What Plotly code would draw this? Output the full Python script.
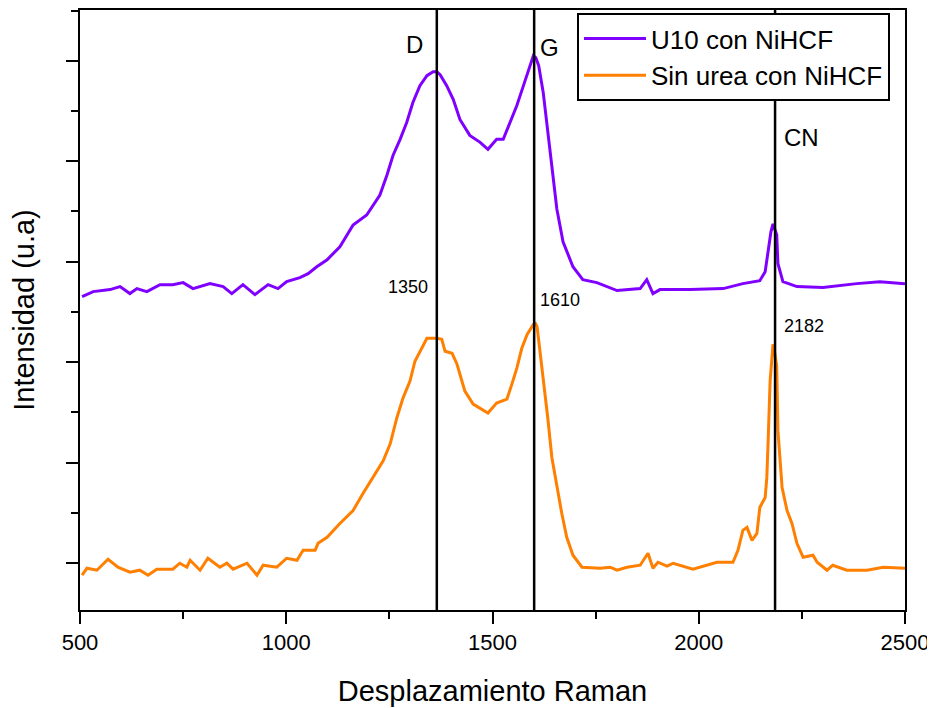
import plotly.graph_objects as go

# Raman shift (cm-1) and intensity (arbitrary units)
u10_x = [505, 532, 573, 597, 621, 638, 662, 694, 725, 750, 774, 815, 847, 868, 895, 924, 956, 980,
         1001, 1033, 1053, 1074, 1099, 1130, 1162, 1195, 1227, 1244, 1259, 1276, 1292, 1307, 1324,
         1341, 1356, 1365, 1373, 1389, 1405, 1421, 1445, 1470, 1489, 1510, 1526, 1542, 1559, 1575,
         1591, 1599, 1605, 1612, 1623, 1632, 1644, 1656, 1671, 1695, 1719, 1753, 1802, 1858, 1874,
         1889, 1906, 1979, 2059, 2107, 2148, 2161, 2168, 2175, 2180, 2185, 2189, 2192, 2204, 2238,
         2301, 2383, 2439, 2500]
u10_y = [268, 273, 275, 278, 271, 276, 273, 280, 280, 282, 276, 281, 278, 271, 280, 270, 280, 276,
         283, 287, 291, 298, 305, 318, 340, 350, 370, 390, 410, 426, 443, 463, 480,
         490, 494, 494, 491, 480, 466, 446, 430, 423, 416, 426, 426, 443, 460, 480,
         500, 510, 508, 500, 473, 440, 396, 356, 323, 298, 285, 282, 274, 276, 285,
         271, 275, 275, 276, 281, 284, 293, 313, 333, 341, 335, 330, 301, 283, 278,
         277, 281, 283, 281]

sin_x = [505, 517, 541, 568, 592, 621, 645, 665, 686, 725, 742, 759, 767, 791, 810, 839, 856, 871,
         905, 929, 944, 977, 1001, 1026, 1041, 1070, 1077, 1099, 1130, 1162, 1186, 1210, 1235, 1252,
         1268, 1283, 1300, 1312, 1329, 1341, 1365, 1377, 1385, 1402, 1414, 1421, 1433, 1453, 1470,
         1489, 1510, 1535, 1547, 1559, 1571, 1584, 1599, 1604, 1608, 1615, 1627, 1634, 1644, 1656,
         1668, 1680, 1695, 1717, 1761, 1785, 1802, 1826, 1858, 1877, 1889, 1901, 1923, 1938, 1986,
         2044, 2083, 2095, 2107, 2117, 2129, 2141, 2148, 2161, 2165, 2168, 2173, 2180, 2184, 2189,
         2192, 2202, 2214, 2226, 2238, 2253, 2277, 2287, 2311, 2325, 2359, 2408, 2447, 2500]
sin_y = [-12, -5, -7, 4, -4, -9, -7, -12, -6, -6, 0, -4, 3, -7, 5, -4, 0, -6,
         0, -12, -2, -4, 5, 3, 13, 13, 20, 26, 40, 53, 70, 86, 103, 120,
         146, 166, 183, 203, 216, 226, 226, 225, 213, 211, 200, 190, 173, 160, 156,
         151, 161, 165, 180, 196, 216, 230, 240, 241, 238, 213, 176, 146, 106, 76,
         50, 26, 8, -4, -5, -4, -7, -4, -2, 10, -5, 1, -3, 0, -6,
         1, 1, 13, 33, 36, 23, 30, 56, 66, 86, 120, 183, 220, 212, 198,
         133, 76, 53, 40, 20, 6, 8, 1, -7, -2, -7, -7, -4, -5]

series_names = ["U10 con NiHCF", "Sin urea con NiHCF"]
peak_lines = [1365, 1601, 2185]
band_labels = ["D", "G", "CN"]
peak_labels = ["1350", "1610", "2182"]

FONT = "Liberation Sans, Arial, sans-serif"

fig = go.Figure()
fig.add_trace(go.Scatter(x=u10_x, y=u10_y, mode="lines", name=series_names[0],
                         line=dict(color="#8000FF", width=3)))
fig.add_trace(go.Scatter(x=sin_x, y=sin_y, mode="lines", name=series_names[1],
                         line=dict(color="#FF7F00", width=3)))

for xv in peak_lines:
    fig.add_shape(type="line", x0=xv, x1=xv, xref="x", y0=0, y1=1, yref="paper",
                  line=dict(color="black", width=2.5))

band_pos = [(1312, 0.942), (1639, 0.937), (2250, 0.788)]
for txt, (xx, yy) in zip(band_labels, band_pos):
    fig.add_annotation(x=xx, y=yy, xref="x", yref="paper", text=txt, showarrow=False,
                       xanchor="center", yanchor="middle",
                       font=dict(family=FONT, size=24, color="black"))
peak_pos = [(1295, 0.539), (1664, 0.516), (2255, 0.474)]
for txt, (xx, yy) in zip(peak_labels, peak_pos):
    fig.add_annotation(x=xx, y=yy, xref="x", yref="paper", text=txt, showarrow=False,
                       xanchor="center", yanchor="middle",
                       font=dict(family=FONT, size=18, color="black"))

fig.update_layout(
    width=927, height=700,
    margin=dict(l=72, r=30, t=0, b=98),
    paper_bgcolor="white", plot_bgcolor="white",
    font=dict(family=FONT, color="black"),
    showlegend=True,
    legend=dict(x=0.6024, y=0.995, xanchor="left", yanchor="top",
                bgcolor="white", bordercolor="black", borderwidth=2,
                font=dict(family=FONT, size=26, color="black"),
                itemwidth=62, tracegroupgap=0),
)
fig.update_xaxes(range=[500, 2500], tick0=500, dtick=500, ticks="outside", ticklen=12,
                 tickwidth=2, tickcolor="black", showline=True, linewidth=2, linecolor="black",
                 mirror=True, showgrid=False, zeroline=False,
                 minor=dict(ticks="outside", ticklen=7, tickwidth=2, tickcolor="black", dtick=250),
                 tickfont=dict(family=FONT, size=22, color="black"),
                 title=dict(text="Desplazamiento Raman", font=dict(family=FONT, size=29, color="black"),
                            standoff=26))
fig.update_yaxes(range=[-47, 556], tick0=0, dtick=101, ticks="outside", ticklen=12,
                 tickwidth=2, tickcolor="black", showline=True, linewidth=2, linecolor="black",
                 mirror=True, showgrid=False, zeroline=False, showticklabels=False,
                 minor=dict(ticks="outside", ticklen=7, tickwidth=2, tickcolor="black", dtick=50.5),
                 title=dict(text="Intensidad (u.a)", font=dict(family=FONT, size=29, color="black"),
                            standoff=23))

fig.write_html("out.html")
